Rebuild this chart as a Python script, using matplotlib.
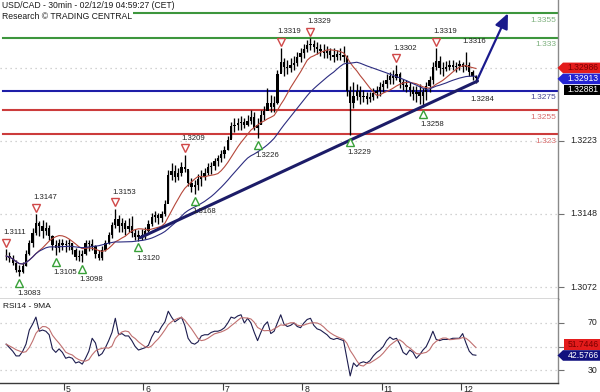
import numpy as np
import pandas as pd
import matplotlib
matplotlib.use("Agg")
import matplotlib.pyplot as plt
from matplotlib.transforms import ScaledTranslation, blended_transform_factory, IdentityTransform
from matplotlib.patches import Polygon

plt.rcParams['font.family'] = ['Liberation Sans', 'DejaVu Sans']

# ---------------- data (hourly bars) ----------------
highs = [
    1.3111, 1.3108, 1.3105, 1.3100, 1.3095, 1.3098, 1.3110, 1.3121, 1.3133, 1.3147,
    1.3140, 1.3141, 1.3139, 1.3136, 1.3126, 1.3121, 1.3122, 1.3122, 1.3121, 1.3122,
    1.3118, 1.3112, 1.3110, 1.3110, 1.3121, 1.3121, 1.3122, 1.3115, 1.3110, 1.3114,
    1.3121, 1.3129, 1.3139, 1.3153, 1.3146, 1.3143, 1.3141, 1.3143, 1.3145, 1.3132,
    1.3131, 1.3132, 1.3134, 1.3141, 1.3149, 1.3151, 1.3149, 1.3151, 1.3162, 1.3193,
    1.3200, 1.3198, 1.3195, 1.3201, 1.3209, 1.3193, 1.3185, 1.3183, 1.3189, 1.3193,
    1.3195, 1.3200, 1.3201, 1.3205, 1.3209, 1.3214, 1.3218, 1.3228, 1.3243, 1.3247,
    1.3247, 1.3249, 1.3247, 1.3250, 1.3255, 1.3253, 1.3247, 1.3255, 1.3259, 1.3278,
    1.3271, 1.3270, 1.3296, 1.3319, 1.3309, 1.3307, 1.3309, 1.3311, 1.3315, 1.3319,
    1.3323, 1.3327, 1.3329, 1.3327, 1.3325, 1.3323, 1.3323, 1.3321, 1.3319, 1.3319,
    1.3317, 1.3319, 1.3321, 1.3312, 1.3280, 1.3284, 1.3282, 1.3280, 1.3276, 1.3274,
    1.3274, 1.3278, 1.3280, 1.3284, 1.3286, 1.3292, 1.3294, 1.3296, 1.3302, 1.3294,
    1.3287, 1.3286, 1.3284, 1.3280, 1.3280, 1.3282, 1.3278, 1.3284, 1.3290, 1.3305,
    1.3319, 1.3311, 1.3305, 1.3306, 1.3307, 1.3307, 1.3305, 1.3307, 1.3305, 1.3315,
    1.3305, 1.3296, 1.3291,
]
lows = [
    1.3100, 1.3098, 1.3095, 1.3088, 1.3083, 1.3086, 1.3094, 1.3105, 1.3113, 1.3126,
    1.3125, 1.3123, 1.3126, 1.3121, 1.3110, 1.3105, 1.3108, 1.3110, 1.3108, 1.3110,
    1.3106, 1.3100, 1.3099, 1.3098, 1.3105, 1.3109, 1.3110, 1.3102, 1.3100, 1.3100,
    1.3109, 1.3116, 1.3123, 1.3133, 1.3129, 1.3129, 1.3126, 1.3129, 1.3124, 1.3121,
    1.3120, 1.3121, 1.3122, 1.3129, 1.3135, 1.3139, 1.3137, 1.3139, 1.3145, 1.3162,
    1.3183, 1.3181, 1.3183, 1.3187, 1.3191, 1.3176, 1.3170, 1.3168, 1.3172, 1.3176,
    1.3183, 1.3188, 1.3189, 1.3193, 1.3197, 1.3201, 1.3205, 1.3214, 1.3226, 1.3232,
    1.3234, 1.3234, 1.3236, 1.3238, 1.3241, 1.3234, 1.3226, 1.3241, 1.3245, 1.3255,
    1.3253, 1.3253, 1.3261, 1.3294, 1.3290, 1.3292, 1.3294, 1.3296, 1.3301, 1.3305,
    1.3309, 1.3315, 1.3317, 1.3315, 1.3313, 1.3311, 1.3309, 1.3309, 1.3307, 1.3305,
    1.3307, 1.3307, 1.3305, 1.3270, 1.3229, 1.3257, 1.3265, 1.3261, 1.3263, 1.3261,
    1.3263, 1.3265, 1.3267, 1.3270, 1.3274, 1.3278, 1.3282, 1.3282, 1.3286, 1.3278,
    1.3276, 1.3274, 1.3270, 1.3265, 1.3263, 1.3261, 1.3258, 1.3265, 1.3274, 1.3282,
    1.3296, 1.3292, 1.3290, 1.3295, 1.3296, 1.3296, 1.3294, 1.3296, 1.3294, 1.3296,
    1.3290, 1.3286, 1.3283,
]
closes = [
    1.3104, 1.3102, 1.3097, 1.3090, 1.3088, 1.3094, 1.3106, 1.3118, 1.3128, 1.3138,
    1.3135, 1.3130, 1.3133, 1.3125, 1.3115, 1.3112, 1.3118, 1.3115, 1.3116, 1.3118,
    1.3110, 1.3103, 1.3104, 1.3106, 1.3118, 1.3116, 1.3114, 1.3106, 1.3102, 1.3110,
    1.3118, 1.3126, 1.3136, 1.3142, 1.3135, 1.3138, 1.3132, 1.3135, 1.3128, 1.3124,
    1.3126, 1.3125, 1.3130, 1.3137, 1.3144, 1.3146, 1.3143, 1.3147, 1.3158, 1.3188,
    1.3192, 1.3186, 1.3190, 1.3196, 1.3194, 1.3180, 1.3175, 1.3178, 1.3184, 1.3186,
    1.3190, 1.3196, 1.3197, 1.3202, 1.3205, 1.3210, 1.3214, 1.3224, 1.3238, 1.3240,
    1.3242, 1.3243, 1.3240, 1.3244, 1.3248, 1.3236, 1.3240, 1.3250, 1.3254, 1.3262,
    1.3258, 1.3262, 1.3292, 1.3305, 1.3300, 1.3298, 1.3302, 1.3304, 1.3310, 1.3314,
    1.3318, 1.3322, 1.3323, 1.3320, 1.3318, 1.3316, 1.3314, 1.3316, 1.3312, 1.3310,
    1.3313, 1.3312, 1.3310, 1.3275, 1.3262, 1.3270, 1.3275, 1.3268, 1.3270, 1.3266,
    1.3268, 1.3273, 1.3275, 1.3279, 1.3282, 1.3286, 1.3290, 1.3288, 1.3292, 1.3284,
    1.3281, 1.3279, 1.3276, 1.3272, 1.3274, 1.3270, 1.3274, 1.3280, 1.3286, 1.3300,
    1.3306, 1.3298, 1.3297, 1.3300, 1.3302, 1.3300, 1.3301, 1.3303, 1.3300, 1.3302,
    1.3294, 1.3290, 1.32881,
]
rsi = [
    52, 49, 46, 42, 42, 46, 52, 64, 69, 75,
    63, 64, 63, 60, 48, 45, 48, 45, 40, 41,
    40, 36, 37, 35, 40, 46, 57, 53, 42, 44,
    49, 55, 62, 74, 60, 61, 59, 59, 55, 50,
    47, 48, 49, 51, 58, 63, 62, 67, 71, 80,
    75, 71, 73, 75, 68, 57, 53, 52, 54, 59,
    60, 60, 62, 63, 63, 64, 66, 70, 75, 74,
    76, 77, 70, 74, 70, 62, 55, 62, 68, 71,
    61, 63, 70, 77, 69, 67, 68, 70, 67, 66,
    70, 73, 74, 68, 65, 64, 62, 60, 57, 56,
    57, 56, 55, 40, 25, 36, 33, 36, 37, 36,
    38, 42, 45, 47, 50, 55, 58, 56, 57, 52,
    45, 43, 47, 45, 40, 43, 47, 50, 56, 63,
    56, 55, 56, 56, 56, 57, 57, 57, 61, 53,
    46, 43, 42.6,
]

day_ticks = [18, 42, 66, 90, 114, 138]
day_labels = ['5', '6', '7', '8', '11', '12']
price_ticks = [1.3072, 1.3148, 1.3223, 1.3298]
price_tick_labels = ['1.3072', '1.3148', '1.3223', '']   # 1.3298 sits under the value tags
rsi_ticks = [30, 50, 70]
rsi_tick_labels = ['30', '', '70']                       # 50 sits under the value tags

levels = [1.3355, 1.333, 1.3275, 1.3255, 1.323]
level_labels = ['1.3355', '1.333', '1.3275', '1.3255', '1.323']
level_colors = ['#3d963d', '#3d963d', '#1e1ea8', '#cc3c3c', '#cc3c3c']
level_text_colors = ['#7db07d', '#7db07d', '#4a4a96', '#d86c6c', '#d86c6c']

pivot_bars = [0, 4, 9, 15, 23, 33, 40, 54, 57, 76, 83, 92, 104, 118, 126, 130]
pivot_kinds = ['H', 'L', 'H', 'L', 'L', 'H', 'L', 'H', 'L', 'L', 'H', 'H', 'L', 'H', 'L', 'H']

trend_x = [41.0, 143.0]
trend_y = [1.3123, 1.3285]
target = (152.2, 1.3355)
note_values = [1.3316, 1.3284]

main_tags = [1.32986, 1.32913, 1.32881]   # fast MA, slow MA, last close
rsi_tags = [51.7446, 42.5766]             # RSI MA, RSI

# ---------------- figure ----------------
W, H, DPI = 600, 392, 100
fig = plt.figure(figsize=(W / DPI, H / DPI), dpi=DPI, facecolor='white')


def fx(px):
    return px / W


def fy(py):
    return 1 - py / H


def off(dx, dy):
    return ScaledTranslation(dx / DPI, -dy / DPI, fig.dpi_scale_trans)


ax = fig.add_axes([0, fy(299), fx(557.5), 1 - fy(299)])
ax2 = fig.add_axes([0, fy(382.5), fx(557.5), fy(299) - fy(382.5)])

PX_PER_BAR = 3.308
X0 = 4.5
xlim = (-X0 / PX_PER_BAR, (557.5 - X0) / PX_PER_BAR)
for a in (ax, ax2):
    a.set_xlim(*xlim)
    a.set_facecolor('white')
    a.spines['top'].set_visible(False)
    a.spines['left'].set_visible(False)
    a.spines['right'].set_color('#8a8a8a')
    a.spines['bottom'].set_color('#3a3a3a')
    a.spines['right'].set_linewidth(1.0)
    a.spines['bottom'].set_linewidth(1.0)

ax.set_ylim(1.30596, 1.33688)
ax2.set_ylim(19.4, 90.4)

n = len(closes)
idx = np.arange(n) + 0.5

# dotted grids
ax.set_yticks(price_ticks)
ax2.set_yticks(rsi_ticks)
for a in (ax, ax2):
    a.yaxis.grid(True, color='#c4c4c4', linestyle=(0, (1, 3)), lw=0.9)
    a.set_axisbelow(True)
    a.tick_params(axis='y', left=False, right=True, labelleft=False, labelright=False,
                  length=4, color='#707070', width=0.8)
ax.set_xticks([])
ax2.set_xticks(day_ticks)
ax2.tick_params(axis='x', length=5, color='#404040', width=0.8, labelbottom=False)

# horizontal levels
for lv, lab, c, tc in zip(levels, level_labels, level_colors, level_text_colors):
    xmin = (130 if lv == levels[0] else 3) / 557.5
    ax.axhline(lv, xmin=xmin, xmax=1, color=c, lw=1.5, zorder=2)
    ax.text(1 - 1.5 / 557.5, lv, lab,
            transform=blended_transform_factory(ax.transAxes, ax.transData) + off(0, 7),
            ha='right', va='center', color=tc, fontsize=6, zorder=3)

# candles
opens = [closes[0]] + closes[:-1]
ax.vlines(idx, lows, highs, color='black', lw=0.95, zorder=4)
body_lo = np.minimum(opens, closes)
body_h = np.maximum(np.abs(np.subtract(closes, opens)), 0.00004)
ax.bar(idx, body_h, bottom=body_lo, width=0.7, color='black', zorder=4)

# moving averages
s = pd.Series(closes)
ma_fast = s.rolling(10, min_periods=1).mean()
ma_slow = s.rolling(25, min_periods=1).mean()
ax.plot(idx, ma_fast, color='#b5473a', lw=0.8, zorder=5)
ax.plot(idx, ma_slow, color='#2c2c80', lw=0.8, zorder=5)

# trend line and target arrow
ax.plot(trend_x, trend_y, color='#1c1c68', lw=2.2, solid_capstyle='round', zorder=6)
ax.annotate('', xy=target, xytext=(trend_x[1], trend_y[1] + 0.0002),
            arrowprops=dict(arrowstyle='-|>,head_length=0.9,head_width=0.4',
                            color='#1a1a8c', lw=1.6, shrinkA=0, shrinkB=0), zorder=6)

# pivots
for b, k in zip(pivot_bars, pivot_kinds):
    if k == 'H':
        p = highs[b]
        ax.plot(idx[b], p, marker='v', ms=6, mfc='white', mec='#d04848', mew=1.0,
                transform=ax.transData + off(0, -6.5), zorder=7)
        ax.text(idx[b], p, f'{p:.4f}', transform=ax.transData + off(-3, -16.5),
                ha='left', va='center', fontsize=5.6, color='#222222', zorder=7)
    else:
        p = lows[b]
        ax.plot(idx[b], p, marker='^', ms=6, mfc='white', mec='#38a038', mew=1.0,
                transform=ax.transData + off(0, 6.7), zorder=7)
        ax.text(idx[b], p, f'{p:.4f}', transform=ax.transData + off(-2.5, 17.5),
                ha='left', va='center', fontsize=5.6, color='#222222', zorder=7)

ax.text(138.3, note_values[0], f'{note_values[0]:.4f}', transform=ax.transData + off(0, -10),
        ha='left', va='center', fontsize=5.6, color='#222222', zorder=7)
ax.text(140.7, note_values[1], f'{note_values[1]:.4f}', transform=ax.transData + off(0, 17.5),
        ha='left', va='center', fontsize=5.6, color='#222222', zorder=7)

# titles
ax.text(0, 1, 'USD/CAD - 30min - 02/12/19 04:59:27 (CET)', transform=ax.transAxes + off(2, 6),
        ha='left', va='center', fontsize=6.2, color='#1a1a1a', zorder=8,
        bbox=dict(facecolor='white', edgecolor='none', pad=0.6))
ax.text(0, 1, 'Research \u00a9 TRADING CENTRAL', transform=ax.transAxes + off(2, 16.5),
        ha='left', va='center', fontsize=6.2, color='#1a1a1a', zorder=8,
        bbox=dict(facecolor='white', edgecolor='none', pad=0.6))

# right-side price labels
for p, lab in zip(price_ticks, price_tick_labels):
    if lab:
        ax.text(fx(597), p, lab, transform=blended_transform_factory(fig.transFigure, ax.transData),
                ha='right', va='center', fontsize=6.3, color='#222222')

# RSI panel
ax2.plot(idx, rsi, color='#1c1c4e', lw=0.8, zorder=4)
rsi_ma = pd.Series(rsi).rolling(5, min_periods=1).mean()
ax2.plot(idx, rsi_ma, color='#c07070', lw=0.8, zorder=4)
ax2.text(0, 1, 'RSI14 - 9MA', transform=ax2.transAxes + off(3, 7), ha='left', va='center',
         fontsize=6.0, color='#1a1a1a')
for r, lab in zip(rsi_ticks, rsi_tick_labels):
    if lab:
        ax2.text(fx(597), r, lab, transform=blended_transform_factory(fig.transFigure, ax2.transData),
                 ha='right', va='center', fontsize=6.3, color='#222222')
for d, lab in zip(day_ticks, day_labels):
    ax2.text(d, 0, lab, transform=blended_transform_factory(ax2.transData, ax2.transAxes) + off(2, 6.5),
             ha='left', va='center', fontsize=6.3, color='#222222')


# value tags on the right
def tag(yc, text, face, tcolor, arrow=True):
    hh = 5.3
    if arrow:
        verts = [(557.5, yc), (563, yc + hh), (600, yc + hh), (600, yc - hh), (563, yc - hh)]
    else:
        verts = [(564, yc + hh), (600, yc + hh), (600, yc - hh), (564, yc - hh)]
    fig.add_artist(Polygon(verts, closed=True, transform=IdentityTransform(),
                           facecolor=face, edgecolor='none', zorder=10))
    fig.text(fx(598.5), yc / H, text, ha='right', va='center', color=tcolor,
             fontsize=6.2, zorder=11)


tag_styles = [('#e41c1c', '#7a0000', True), ('#2424d4', 'white', True), ('black', 'white', False)]
prev = None
for val, (face, tc, arr) in zip(main_tags, tag_styles):
    yc = ax.transData.transform((0, val))[1]
    if prev is not None:
        yc = min(yc, prev - 11)
    tag(yc, f'{val:.5f}', face, tc, arr)
    prev = yc

rsi_styles = [('#e41c1c', '#7a0000', False), ('#10107e', 'white', True)]
prev = None
for val, (face, tc, arr) in zip(rsi_tags, rsi_styles):
    yc = ax2.transData.transform((0, val))[1]
    if prev is not None:
        yc = min(yc, prev - 11)
    tag(yc, f'{val:.4f}', face, tc, arr)
    prev = yc

fig.savefig('out.png', dpi=DPI, facecolor='white')
